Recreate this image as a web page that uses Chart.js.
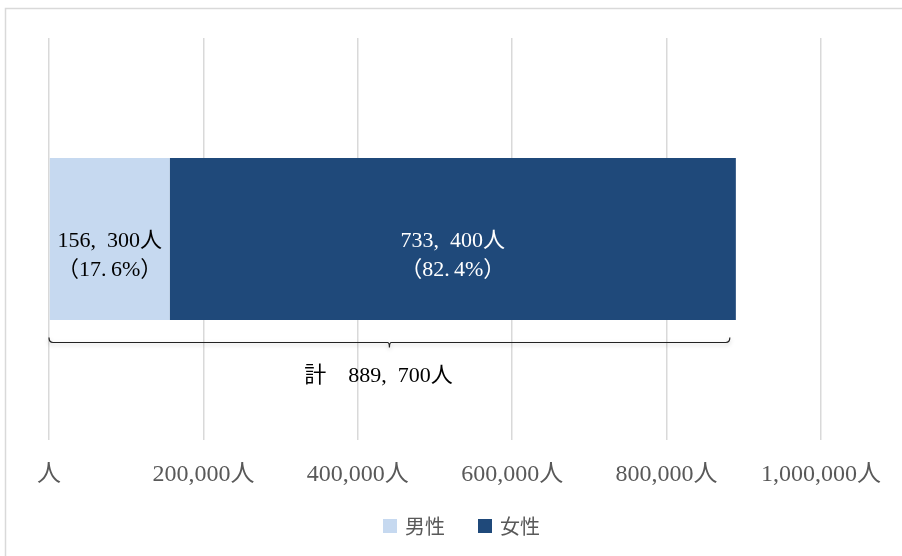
<!DOCTYPE html>
<html>
<head>
<meta charset="utf-8">
<script src="https://cdn.jsdelivr.net/npm/chart.js@4/dist/chart.umd.min.js"></script>
<style>
  html, body { margin: 0; padding: 0; background: #fff; }
  #wrap { position: relative; width: 902px; height: 556px; }
</style>
</head>
<body>
<div id="wrap"><canvas id="chart" width="902" height="556"></canvas></div>
<script>
const categories = [""];
const seriesNames = ["男性", "女性"];
const menValues = [156300];
const womenValues = [733400];
const percentLabels = ["17.6%", "82.4%"];
const totalValue = 889700;
const tickValues = [0, 200000, 400000, 600000, 800000, 1000000];

const LIGHT = "#c6d9f0";
const DARK = "#1f497a";
const SERIF = '"Liberation Serif", "Noto Sans CJK JP", serif';
const SANS = '"Noto Sans CJK JP", "Noto Sans", sans-serif';

function tickText(v) {
  return v === 0 ? "人" : v.toLocaleString("en-US") + "人";
}

// the labels in the plot have a gap after comma and period
function spaced(s) {
  return s.replace(/,/g, ",\u2002").replace(/\./g, ".\u2009");
}

const frame = {
  id: "frame",
  beforeDraw(chart) {
    const ctx = chart.ctx;
    ctx.save();
    ctx.strokeStyle = "#d9d9d9";
    ctx.lineWidth = 1.5;
    ctx.beginPath();
    ctx.moveTo(5.5, 556);
    ctx.lineTo(5.5, 8.5);
    ctx.lineTo(902, 8.5);
    ctx.stroke();
    ctx.restore();
  }
};

const barLabels = {
  id: "barLabels",
  afterDatasetsDraw(chart) {
    const ctx = chart.ctx;
    ctx.save();
    ctx.font = "22px " + SERIF;
    ctx.textAlign = "center";
    ctx.textBaseline = "middle";
    chart.data.datasets.forEach((ds, i) => {
      const bar = chart.getDatasetMeta(i).data[0];
      const cx = (bar.x + bar.base) / 2;
      ctx.fillStyle = i === 0 ? "#000" : "#fff";
      ctx.fillText(spaced(ds.data[0].toLocaleString("en-US")) + "人", cx, bar.y + 2);
      ctx.fillText("（" + spaced(percentLabels[i]) + "）", cx, bar.y + 31);
    });

    // brace under the whole bar
    const x = chart.scales.x;
    const x0 = x.getPixelForValue(0);
    const x1 = x.getPixelForValue(totalValue) - 6;
    const mid = (x0 + x1) / 2;
    const y = 342.5;
    ctx.shadowColor = "rgba(0,0,0,0.25)";
    ctx.shadowBlur = 4;
    ctx.shadowOffsetY = 2;
    ctx.strokeStyle = "#222";
    ctx.lineWidth = 1.2;
    ctx.beginPath();
    ctx.moveTo(x0, y - 5);
    ctx.quadraticCurveTo(x0, y, x0 + 4, y);
    ctx.lineTo(mid - 2, y);
    ctx.quadraticCurveTo(mid, y, mid, y + 5);
    ctx.quadraticCurveTo(mid, y, mid + 2, y);
    ctx.lineTo(x1 - 4, y);
    ctx.quadraticCurveTo(x1, y, x1, y - 5);
    ctx.stroke();
    ctx.shadowColor = "transparent";
    ctx.fillStyle = "#000";
    ctx.fillText("計　" + spaced(totalValue.toLocaleString("en-US")) + "人", mid - 11, 376);

    // legend, centred under the plot like the original
    ctx.font = "20px " + SANS;
    ctx.textAlign = "left";
    const legendX = [383, 478];
    chart.data.datasets.forEach((ds, i) => {
      ctx.fillStyle = ds.backgroundColor;
      ctx.fillRect(legendX[i], 519, 14, 14);
      ctx.fillStyle = "#595959";
      ctx.fillText(ds.label, legendX[i] + 22, 526);
    });
    ctx.restore();
  }
};

new Chart(document.getElementById("chart"), {
  type: "bar",
  data: {
    labels: categories,
    datasets: [
      { label: seriesNames[0], data: menValues, backgroundColor: LIGHT, borderWidth: 0 },
      { label: seriesNames[1], data: womenValues, backgroundColor: DARK, borderWidth: 0 }
    ]
  },
  options: {
    indexAxis: "y",
    responsive: false,
    animation: false,
    devicePixelRatio: 1,
    layout: { padding: { left: 49, right: 81, top: 38, bottom: 54 } },
    datasets: { bar: { categoryPercentage: 1, barPercentage: 0.403 } },
    plugins: {
      tooltip: { enabled: false },
      legend: { display: false }
    },
    scales: {
      x: {
        stacked: true,
        min: 0,
        max: 1000000,
        afterBuildTicks(scale) { scale.ticks = tickValues.map((v) => ({ value: v })); },
        afterFit(scale) { scale.height = 62; },
        grid: { color: "#d9d9d9", lineWidth: 1.5, drawTicks: false },
        border: { display: false },
        ticks: {
          color: "#595959",
          font: { family: SERIF, size: 24 },
          padding: 20,
          maxRotation: 0,
          autoSkip: false,
          callback: (v) => tickText(v)
        }
      },
      y: { stacked: true, display: false }
    }
  },
  plugins: [frame, barLabels]
});
</script>
</body>
</html>
